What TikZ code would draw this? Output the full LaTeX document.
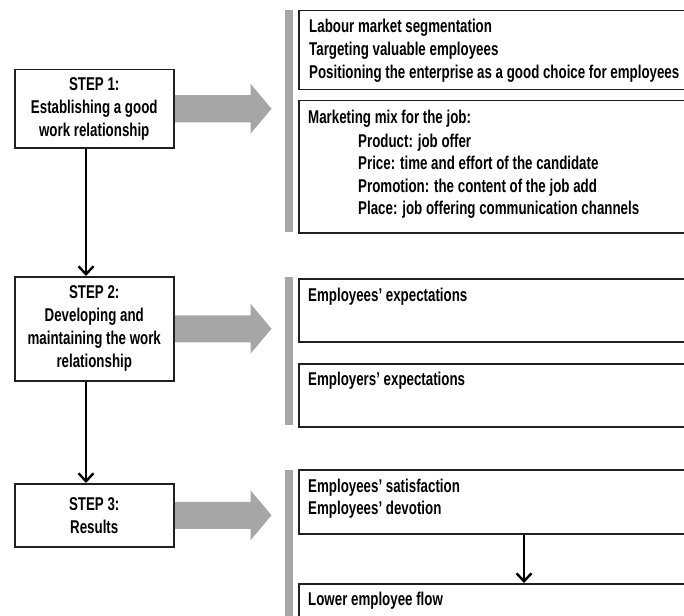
\documentclass[tikz,border=0pt]{standalone}
\usepackage{fontspec}
\setmainfont{Liberation Sans}[FakeStretch=0.72]
\usetikzlibrary{arrows.meta,backgrounds}
\definecolor{grayarr}{HTML}{A6A6A6}
\definecolor{edge}{HTML}{202020}
\newcommand\mytxt{\bfseries\fontsize{18.5}{23}\selectfont}
\begin{document}
\begin{tikzpicture}[x=1pt,y=-1pt,
  stepbox/.style={draw=edge, line width=1.5pt, fill=white, minimum width=159pt,
    anchor=north west, inner sep=0pt, align=center, font=\mytxt},
  rbox/.style={draw=edge, line width=1.5pt, fill=white, minimum width=400pt,
    anchor=north west, inner sep=0pt},
  txt/.style={anchor=base west, inner sep=0pt, font=\mytxt},
  conn/.style={line width=2.6pt, -{Straight Barb[length=8pt,width=15pt,line width=2.4pt]}},
  bar/.style={fill=grayarr},
  bigarrow/.style={fill=grayarr}]
\useasboundingbox (0,0) rectangle (684,615);
\clip (0,0) rectangle (684,615);

% step boxes
\node[stepbox, minimum height=78pt] (S1) at (14,69) {STEP 1:\\Establishing a good\\work relationship};
\node[stepbox, minimum height=104pt] (S2) at (14,276) {STEP 2:\\Developing and\\maintaining the work\\relationship};
\node[stepbox, minimum height=63pt] (S3) at (14,483) {STEP 3:\\Results};

% right boxes
\node[rbox, minimum height=79pt] (A) at (298,10) {};
\node[rbox, minimum height=132pt] (B) at (298,100) {};
\node[rbox, minimum height=63pt] (C) at (298,278) {};
\node[rbox, minimum height=63pt] (D) at (298,363) {};
\node[rbox, minimum height=64pt] (E) at (298,469) {};
\node[rbox, minimum height=60pt] (F) at (298,583) {};

% gray bars
\fill[bar] (285,10) rectangle (293,232);
\fill[bar] (285,277) rectangle (293,425);
\fill[bar] (285,470) rectangle (293,620);

% texts
\node[txt] (a1) at (309,33) {Labour market segmentation};
\node[txt] (a2) at (309,56) {Targeting valuable employees};
\node[txt] (a3) at (309,79) {Positioning the enterprise as a good choice for employees};
\node[txt] (b1) at (308,123) {Marketing mix for the job:};
\node[txt] (b2) at (358,147) {Product: job offer};
\node[txt] (b3) at (358,169) {Price: time and effort of the candidate};
\node[txt] (b4) at (358,192) {Promotion: the content of the job add};
\node[txt] (b5) at (358,214) {Place: job offering communication channels};
\node[txt] (c1) at (308,301) {Employees’ expectations};
\node[txt] (d1) at (308,385) {Employers’ expectations};
\node[txt] (e1) at (308,492) {Employees’ satisfaction};
\node[txt] (e2) at (308,514) {Employees’ devotion};
\node[txt] (f1) at (308,605) {Lower employee flow};

% big gray arrows
\begin{scope}[on background layer]
\foreach \s in {S1,S2,S3}{
  \fill[bigarrow] (\s.east) ++(0,-13.5) -- ++(76,0) -- ++(0,-11.5) -- ++(21,25)
    -- ++(-21,25) -- ++(0,-11.5) -- ++(-76,0) -- cycle;
}
\end{scope}

% black connectors
\coordinate (ax) at (86,0);
\coordinate (ex) at (524,0);
\draw[conn] (S1.south -| ax) -- (S2.north -| ax);
\draw[conn] (S2.south -| ax) -- (S3.north -| ax);
\draw[conn] (E.south -| ex) -- (F.north -| ex);
\end{tikzpicture}
\end{document}
